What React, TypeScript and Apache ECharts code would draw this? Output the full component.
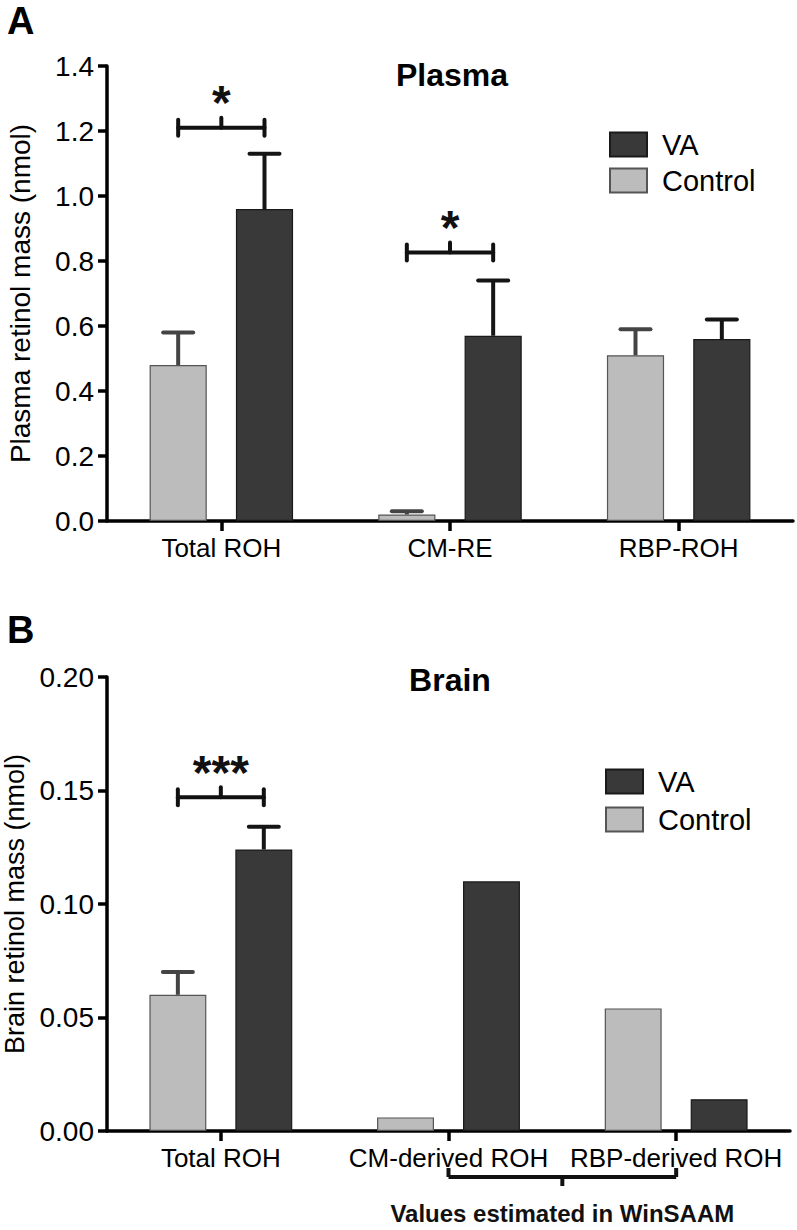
import React, { useEffect, useRef } from "react";
import * as echarts from "echarts";

const plasmaCategories = ["Total ROH", "CM-RE", "RBP-ROH"];
const plasmaControl = [0.48, 0.02, 0.51];
const plasmaControlUpper = [0.58, 0.03, 0.59];
const plasmaVA = [0.96, 0.57, 0.56];
const plasmaVAUpper = [1.13, 0.74, 0.62];
const plasmaSig = [
  { cat: 0, y: 1.21, label: "*" },
  { cat: 1, y: 0.826, label: "*" },
];

const brainCategories = ["Total ROH", "CM-derived ROH", "RBP-derived ROH"];
const brainControl = [0.06, 0.006, 0.054];
const brainControlUpper = [0.07, null, null];
const brainVA = [0.124, 0.11, 0.014];
const brainVAUpper = [0.134, null, null];
const brainSig = [{ cat: 0, y: 0.147, label: "***" }];
const brainGroupNote = { from: 1, to: 2, label: "Values estimated in WinSAAM" };

const FONT = "'Liberation Sans', Arial, sans-serif";
const VA_COLOR = "#393939";
const CTRL_COLOR = "#bcbcbc";
const BAR_W = 0.25;
const BAR_GAP = 0.51;
const OFFSET = BAR_W / 2 + (BAR_W * BAR_GAP) / 2;

function errorSeries(name: string, axisIdx: number, means: (number)[], uppers: (number | null)[], sign: number, color: string) {
  const data = means
    .map((m, i) => (uppers[i] == null ? null : [i, m, uppers[i]]))
    .filter((d) => d !== null);
  return {
    type: "custom",
    name,
    xAxisIndex: axisIdx,
    yAxisIndex: axisIdx,
    z: 3,
    clip: false,
    data,
    renderItem: (params: any, api: any) => {
      const bw = api.size([1, 0])[0];
      const base = api.coord([api.value(0), api.value(1)]);
      const top = api.coord([api.value(0), api.value(2)]);
      const x = base[0] + sign * bw * OFFSET;
      const cap = 15;
      const st = { stroke: color, lineWidth: 4 };
      return {
        type: "group",
        children: [
          { type: "line", shape: { x1: x, y1: base[1], x2: x, y2: top[1] }, style: st },
          { type: "line", shape: { x1: x - cap, y1: top[1], x2: x + cap, y2: top[1] }, style: { ...st, lineCap: "round" } },
        ],
      };
    },
  };
}

function sigSeries(axisIdx: number, sig: { cat: number; y: number; label: string }[]) {
  return {
    type: "custom",
    name: "sig" + axisIdx,
    xAxisIndex: axisIdx,
    yAxisIndex: axisIdx,
    z: 4,
    clip: false,
    data: sig.map((s) => [s.cat, s.y, s.label]),
    renderItem: (params: any, api: any) => {
      const bw = api.size([1, 0])[0];
      const c = api.coord([api.value(0), api.value(1)]);
      const label = sig[params.dataIndex].label;
      const x1 = c[0] - bw * OFFSET;
      const x2 = c[0] + bw * OFFSET;
      const y = c[1];
      const st = { stroke: "#111", lineWidth: 4, lineCap: "round" };
      return {
        type: "group",
        children: [
          { type: "line", shape: { x1, y1: y, x2, y2: y }, style: st },
          { type: "line", shape: { x1, y1: y - 8, x2: x1, y2: y + 8 }, style: st },
          { type: "line", shape: { x1: x2, y1: y - 8, x2, y2: y + 8 }, style: st },
          { type: "line", shape: { x1: c[0], y1: y, x2: c[0], y2: y - 10 }, style: st },
          {
            type: "text",
            x: c[0],
            y: y - 25,
            style: {
              text: label,
              fill: "#111",
              font: "bold 48px " + FONT,
              textAlign: "center",
              textVerticalAlign: "middle",
            },
          },
        ],
      };
    },
  };
}

function noteSeries(axisIdx: number) {
  return {
    type: "custom",
    name: "note",
    xAxisIndex: axisIdx,
    yAxisIndex: axisIdx,
    z: 4,
    clip: false,
    data: [[brainGroupNote.from, brainGroupNote.to]],
    renderItem: (params: any, api: any) => {
      const p1 = api.coord([api.value(0), 0]);
      const p2 = api.coord([api.value(1), 0]);
      const y = p1[1] + 46;
      const mid = (p1[0] + p2[0]) / 2;
      const st = { stroke: "#111", lineWidth: 4 };
      return {
        type: "group",
        children: [
          { type: "line", shape: { x1: p1[0], y1: y, x2: p2[0], y2: y }, style: st },
          { type: "line", shape: { x1: p1[0], y1: y, x2: p1[0], y2: y - 9 }, style: st },
          { type: "line", shape: { x1: p2[0], y1: y, x2: p2[0], y2: y - 9 }, style: st },
          { type: "line", shape: { x1: mid, y1: y, x2: mid, y2: y + 9 }, style: st },
          {
            type: "text",
            x: mid,
            y: y + 36,
            style: {
              text: brainGroupNote.label,
              fill: "#111",
              font: "bold 24px " + FONT,
              textAlign: "center",
              textVerticalAlign: "middle",
            },
          },
        ],
      };
    },
  };
}

export default function App() {
  const ref = useRef<HTMLDivElement>(null);
  useEffect(() => {
    document.body.style.margin = "0";
    const chart = echarts.init(ref.current!, null, { renderer: "svg" });
    const axisLine = { show: true, lineStyle: { color: "#000", width: 3.5 } };
    const axisTick = { show: true, length: 9, lineStyle: { color: "#000", width: 3.5 } };
    const xAxisBase = (cats: string[], gi: number) => ({
      type: "category",
      gridIndex: gi,
      data: cats,
      axisLine,
      axisTick: { ...axisTick, alignWithLabel: true, length: 10 },
      axisLabel: { color: "#000", fontSize: 26, fontFamily: FONT, margin: 14, interval: 0 },
    });
    const barSeries = (name: string, gi: number, data: number[], color: string, border: string) => ({
      type: "bar",
      name,
      xAxisIndex: gi,
      yAxisIndex: gi,
      data,
      barWidth: BAR_W * 100 + "%",
      barGap: BAR_GAP * 100 + "%",
      itemStyle: { color, borderColor: border, borderWidth: 1.2 },
      z: 2,
    });
    const legendBase = (top: number, left: number, gap: number) => ({
      data: [
        { name: "VA", icon: "rect" },
        { name: "Control", icon: "rect" },
      ],
      orient: "vertical",
      left,
      top,
      padding: 0,
      itemWidth: 37,
      itemHeight: 24,
      itemGap: gap,
      selectedMode: false,
      textStyle: { color: "#000", fontSize: 29, fontFamily: FONT, padding: [0, 0, 0, 10] },
    });
    chart.setOption({
      animation: false,
      grid: [
        { left: 107, top: 66, width: 686, height: 455, containLabel: false, outerBoundsMode: "none" },
        { left: 107, top: 677, width: 683, height: 454, containLabel: false, outerBoundsMode: "none" },
      ],
      legend: [legendBase(130, 609, 7), legendBase(767, 605, 9)],
      xAxis: [xAxisBase(plasmaCategories, 0), xAxisBase(brainCategories, 1)],
      yAxis: [
        {
          type: "value",
          gridIndex: 0,
          min: 0,
          max: 1.4,
          interval: 0.2,
          axisLine,
          axisTick,
          splitLine: { show: false },
          axisLabel: { color: "#000", fontSize: 28, fontFamily: FONT, margin: 13, formatter: (v: number) => v.toFixed(1) },
          name: "Plasma retinol mass (nmol)",
          nameLocation: "middle",
          nameGap: 73,
          nameTextStyle: { color: "#000", fontSize: 28, fontFamily: FONT },
        },
        {
          type: "value",
          gridIndex: 1,
          min: 0,
          max: 0.2,
          interval: 0.05,
          axisLine,
          axisTick,
          splitLine: { show: false },
          axisLabel: { color: "#000", fontSize: 28, fontFamily: FONT, margin: 13, formatter: (v: number) => v.toFixed(2) },
          name: "Brain retinol mass (nmol)",
          nameLocation: "middle",
          nameGap: 73,
          nameTextStyle: { color: "#000", fontSize: 27, fontFamily: FONT },
        },
      ],
      graphic: [
        { type: "text", x: 7, y: 2, style: { text: "A", font: "bold 38px " + FONT, fill: "#000" } },
        { type: "text", x: 7, y: 611, style: { text: "B", font: "bold 38px " + FONT, fill: "#000" } },
        { type: "text", x: 452, y: 75, style: { text: "Plasma", font: "bold 32px " + FONT, fill: "#000", textAlign: "center", textVerticalAlign: "middle" } },
        { type: "text", x: 450, y: 680, style: { text: "Brain", font: "bold 32px " + FONT, fill: "#000", textAlign: "center", textVerticalAlign: "middle" } },
      ],
      series: [
        barSeries("Control", 0, plasmaControl, CTRL_COLOR, "#555"),
        barSeries("VA", 0, plasmaVA, VA_COLOR, "#1a1a1a"),
        barSeries("Control", 1, brainControl, CTRL_COLOR, "#555"),
        barSeries("VA", 1, brainVA, VA_COLOR, "#1a1a1a"),
        errorSeries("errC0", 0, plasmaControl, plasmaControlUpper, -1, "#444"),
        errorSeries("errV0", 0, plasmaVA, plasmaVAUpper, 1, "#151515"),
        errorSeries("errC1", 1, brainControl, brainControlUpper, -1, "#444"),
        errorSeries("errV1", 1, brainVA, brainVAUpper, 1, "#151515"),
        sigSeries(0, plasmaSig),
        sigSeries(1, brainSig),
        noteSeries(1),
      ],
    });
    return () => chart.dispose();
  }, []);
  return <div ref={ref} style={{ width: 797, height: 1230 }} />;
}
